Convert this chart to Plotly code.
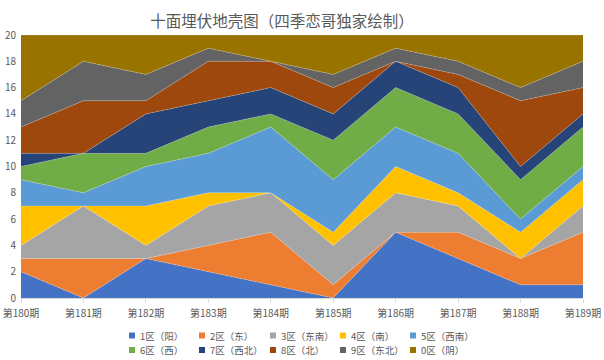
import plotly.graph_objects as go

categories = ["第180期", "第181期", "第182期", "第183期", "第184期",
              "第185期", "第186期", "第187期", "第188期", "第189期"]
series_names = ["1区（阳）", "2区（东）", "3区（东南）", "4区（南）", "5区（西南）",
                "6区（西）", "7区（西北）", "8区（北）", "9区（东北）", "0区（阴）"]
s1 = [2, 0, 3, 2, 1, 0, 5, 3, 1, 1]
s2 = [1, 3, 0, 2, 4, 1, 0, 2, 2, 4]
s3 = [1, 4, 1, 3, 3, 3, 3, 2, 0, 2]
s4 = [3, 0, 3, 1, 0, 1, 2, 1, 2, 2]
s5 = [2, 1, 3, 3, 5, 4, 3, 3, 1, 1]
s6 = [1, 3, 1, 2, 1, 3, 3, 3, 3, 3]
s7 = [1, 0, 3, 2, 2, 2, 2, 2, 1, 1]
s8 = [2, 4, 1, 3, 2, 2, 0, 1, 5, 2]
s9 = [2, 3, 2, 1, 0, 1, 1, 1, 1, 2]
s0 = [5, 2, 3, 1, 2, 3, 1, 2, 4, 2]
series_values = [s1, s2, s3, s4, s5, s6, s7, s8, s9, s0]
y_ticks = [0, 2, 4, 6, 8, 10, 12, 14, 16, 18, 20]

colors = ["#4472C4", "#ED7D31", "#A5A5A5", "#FFC000", "#5B9BD5",
          "#70AD47", "#264478", "#9E480E", "#636363", "#997300"]

FONT = "Noto Sans CJK SC, Noto Sans, sans-serif"
TXT = "#595959"

W, H = 604, 360
ML, MR, MT, MB = 21, 21, 35, 62
PW, PH = W - ML - MR, H - MT - MB


def px_x(p):
    return (p - ML) / PW


def px_y(p):
    return (H - MB - p) / PH


fig = go.Figure()
for name, vals, c in zip(series_names, series_values, colors):
    fig.add_trace(go.Scatter(
        x=categories, y=vals, name=name, stackgroup="one",
        mode="lines", line=dict(width=0.6, color="rgba(255,255,255,0.35)"),
        fillcolor=c, showlegend=False, hoverinfo="x+y+name"))

# manual legend: two rows of five
col_x = [129, 199, 270, 340, 410]
row_y = [335.5, 350]
shapes, annotations = [], []
for i, (name, c) in enumerate(zip(series_names, colors)):
    cx = col_x[i % 5]
    cy = row_y[i // 5]
    shapes.append(dict(type="rect", xref="paper", yref="paper",
                       x0=px_x(cx), x1=px_x(cx + 6), y0=px_y(cy + 3), y1=px_y(cy - 3),
                       fillcolor=c, line=dict(width=0)))
    annotations.append(dict(text=name, xref="paper", yref="paper",
                            x=px_x(cx + 9), y=px_y(cy), xanchor="left", yanchor="middle",
                            showarrow=False,
                            font=dict(family=FONT, size=9.5, color=TXT)))

fig.update_layout(
    width=W, height=H,
    margin=dict(l=ML, r=MR, t=MT, b=MB, autoexpand=False),
    paper_bgcolor="white", plot_bgcolor="white",
    font=dict(family=FONT, color=TXT),
    showlegend=False,
    title=dict(text="十面埋伏地壳图（四季恋哥独家绘制）", x=282 / W, xanchor="center",
               y=1 - 22 / H, yanchor="middle",
               font=dict(family=FONT, size=15.5, color=TXT)),
    shapes=shapes, annotations=annotations,
    xaxis=dict(type="category", range=[0, len(categories) - 1],
               showgrid=False, showline=True, linecolor="#D9D9D9", linewidth=1,
               ticks="outside", ticklen=4, tickcolor="#D9D9D9",
               tickfont=dict(family=FONT, size=10, color=TXT), tickangle=0,
               ticklabelstandoff=2,
               zeroline=False, automargin=False),
    yaxis=dict(range=[0, 20], tickvals=y_ticks, showgrid=False, showline=False,
               zeroline=False, ticks="", automargin=False, ticklabelstandoff=4,
               tickfont=dict(family=FONT, size=10, color=TXT)),
)

fig.write_html("out.html", config={"displayModeBar": False},
               post_script="document.body.style.margin='0';document.body.style.overflow='hidden';")
